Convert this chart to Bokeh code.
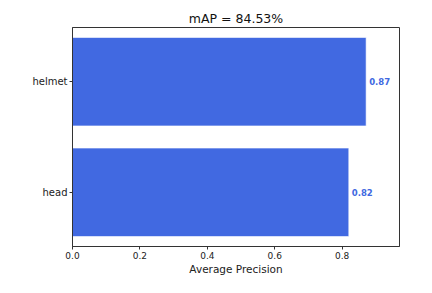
from bokeh.plotting import figure
from bokeh.models import ColumnDataSource, FactorRange, Range1d, FixedTicker
from bokeh.core.properties import value
from bokeh.embed import file_html
from bokeh.resources import INLINE

categories = ["head", "helmet"]
ap_values = [0.8196, 0.871]
ap_labels = ["0.82", "0.87"]
title_text = "mAP = 84.53%"
x_label = "Average Precision"
x_ticks = [0.0, 0.2, 0.4, 0.6, 0.8]

src = ColumnDataSource(dict(cat=categories, ap=ap_values, lab=ap_labels))

FONT = "DejaVu Sans"

p = figure(width=416, height=277, output_backend="svg", toolbar_location=None,
           y_range=FactorRange(*categories, range_padding=-0.01), x_range=Range1d(0, 0.97),
           min_border_left=72, min_border_right=17, min_border_top=27, min_border_bottom=30)

p.hbar(y="cat", right="ap", left=0, height=0.8, source=src,
       fill_color="#4169E1", line_color="white", line_width=0.6)
p.text(x="ap", y="cat", text="lab", source=src, x_offset=3,
       text_align="left", text_baseline="middle", text_color="#4169E1",
       text_font=value(FONT), text_font_style="bold", text_font_size="8.5px")

p.title.text = title_text
p.title.align = "center"
p.title.text_font = FONT
p.title.text_font_style = "normal"
p.title.text_font_size = "12.5px"
p.title.text_color = "#111111"
p.title.standoff = 3

p.grid.visible = False
p.outline_line_color = "#333333"
p.outline_line_width = 1

for ax in (p.xaxis[0], p.yaxis[0]):
    ax.axis_line_color = "#333333"
    ax.major_tick_line_color = "#333333"
    ax.major_tick_in = 0
    ax.major_tick_out = 3
    ax.minor_tick_line_color = None
    ax.major_label_text_font = FONT
    ax.major_label_text_color = "#222222"
    ax.major_label_standoff = 2

p.xaxis.ticker = FixedTicker(ticks=x_ticks)
p.xaxis.major_label_overrides = {t: f"{t:.1f}" for t in x_ticks}
p.xaxis.major_label_text_font_size = "9px"
p.yaxis.major_label_text_font_size = "10px"
p.xaxis.axis_label = x_label
p.xaxis.axis_label_text_font = FONT
p.xaxis.axis_label_text_font_style = "normal"
p.xaxis.axis_label_text_font_size = "10.5px"
p.xaxis.axis_label_text_color = "#222222"
p.xaxis.axis_label_standoff = 1

open("out.html", "w").write(file_html(p, INLINE))
